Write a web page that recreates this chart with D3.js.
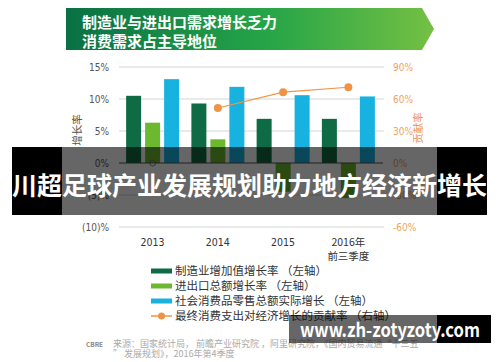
<!DOCTYPE html>
<html><head><meta charset="utf-8">
<script src="https://cdn.jsdelivr.net/npm/d3@7"></script>
<style>
html,body{margin:0;padding:0;background:#fff;}
svg{display:block;font-family:"Noto Sans CJK SC","Noto Sans",sans-serif;}
.num{font-family:"Liberation Sans Narrow","DejaVu Sans Condensed","Noto Sans",sans-serif;}
</style></head>
<body>
<script>
// ---- data ----
const categories = ["2013", "2014", "2015", "2016年前三季度"];
const categoryLines = [["2013"], ["2014"], ["2015"], ["2016年", "前三季度"]];
const manufacturing = [10.5, 9.3, 6.9, 6.9];      // 制造业增加值增长率 (left axis, %)
const trade = [6.3, 3.7, -4.5, -5.5];              // 进出口总额增长率 (left axis, %)
const retail = [13.1, 11.9, 10.6, 10.4];           // 社会消费品零售总额实际增长 (left axis, %)
const contribution = [null, 51.6, 66.4, 71.0];     // 最终消费支出对经济增长的贡献率 (right axis, %)
const leftTicks = [15, 10, 5, 0, -5, -10];
const leftTickLabels = ["15%", "10%", "5%", "0%", "(5)%", "(10)%"];
const rightTicks = [90, 60, 30, 0, -30, -60];
const rightTickLabels = ["90%", "60%", "30%", "0%", "-30%", "-60%"];
const seriesNames = ["制造业增加值增长率 （左轴）", "进出口总额增长率 （左轴）", "社会消费品零售总额实际增长  （左轴）", "最终消费支出对经济增长的贡献率 （右轴）"];
const titleLines = ["制造业与进出口需求增长乏力", "消费需求占主导地位"];
const sourceLines = ["来源：国家统计局，  前瞻产业研究院 ，阿里研究院，《国内贸易流通“十三五", "” 发展规划》，2016年第4季度"];
const overlayTitle = "川超足球产业发展规划助力地方经济新增长";
const watermark = "www.zh-zotyzoty.com";

const colors = {mfg:"#0f6b45", trade:"#6cb82f", retail:"#18b2e0", line:"#ef9446"};

const W = 500, H = 362;
const svg = d3.select("body").append("svg").attr("width", W).attr("height", H);

// ---- header banner ----
const defs = svg.append("defs");
const grad = defs.append("linearGradient").attr("id","hg").attr("x1","0").attr("x2","1").attr("y1","0").attr("y2","0");
grad.append("stop").attr("offset","0").attr("stop-color","#0a7044");
grad.append("stop").attr("offset","0.55").attr("stop-color","#26a548");
grad.append("stop").attr("offset","1").attr("stop-color","#74c043");
svg.append("path").attr("d","M66,8 L422,8 L434,29 L422,50 L66,50 Z").attr("fill","url(#hg)");
svg.selectAll("text.title").data(titleLines).join("text").attr("class","title")
  .attr("x",82).attr("y",(d,i)=>28+i*19).attr("fill","#fff")
  .attr("font-size",15).attr("font-weight","bold").text(d=>d);

// ---- scales ----
const x = d3.scaleBand().domain(categories).range([120, 381]).paddingInner(0).paddingOuter(0);
const sub = d3.scaleBand().domain(["mfg","trade","retail"]).range([-26.5, 26.5]).paddingInner(0.21).paddingOuter(0);
const yL = d3.scaleLinear().domain([-10, 15]).range([227, 67]);
const yR = d3.scaleLinear().domain([-60, 90]).range([227, 67]);

// gridlines
svg.append("g").selectAll("line").data(leftTicks.filter(t=>t!==0)).join("line")
  .attr("x1",119).attr("x2",384).attr("y1",d=>yL(d)).attr("y2",d=>yL(d))
  .attr("stroke","#d4d4d4").attr("stroke-width",1);

// left axis labels
svg.append("g").selectAll("text").data(leftTicks).join("text").attr("class","num")
  .attr("x",109).attr("y",d=>yL(d)+3.5).attr("text-anchor","end")
  .attr("font-size",10).attr("fill","#555").text((d,i)=>leftTickLabels[i]);
// right axis labels
svg.append("g").selectAll("text").data(rightTicks).join("text").attr("class","num")
  .attr("x",393).attr("y",d=>yR(d)+3.5).attr("text-anchor","start")
  .attr("font-size",10).attr("fill","#f0a35f").text((d,i)=>rightTickLabels[i]);

// axis titles
svg.append("text").attr("transform","translate(81,130) rotate(-90)").attr("text-anchor","middle")
  .attr("font-size",10.5).attr("fill","#555").text("增长率");
svg.append("text").attr("transform","translate(422,128) rotate(-90)").attr("text-anchor","middle")
  .attr("font-size",10.5).attr("fill","#ef9446").text("贡献率");

// bars
const series = [["mfg", manufacturing], ["trade", trade], ["retail", retail]];
series.forEach(([key, vals]) => {
  svg.append("g").selectAll("rect").data(vals).join("rect")
    .attr("x",(d,i)=>x(categories[i]) + x.bandwidth()/2 + sub(key))
    .attr("width",sub.bandwidth())
    .attr("y",d=>yL(Math.max(0,d)))
    .attr("height",d=>Math.abs(yL(d)-yL(0)))
    .attr("fill",colors[key]);
});

// zero line
svg.append("line").attr("x1",119).attr("x2",383).attr("y1",yL(0)).attr("y2",yL(0))
  .attr("stroke","#555").attr("stroke-width",1);

// line series (right axis)
const cx = (i)=>x(categories[i]) + x.bandwidth()/2;
const lineData = contribution.map((v,i)=>({i,v})).filter(d=>d.v!==null);
svg.append("path").datum(lineData)
  .attr("d", d3.line().x(d=>cx(d.i)).y(d=>yR(d.v)))
  .attr("fill","none").attr("stroke",colors.line).attr("stroke-width",1.2);
svg.append("g").selectAll("circle").data(lineData).join("circle")
  .attr("cx",d=>cx(d.i)).attr("cy",d=>yR(d.v)).attr("r",4).attr("fill",colors.line);
// hollow marker for missing 2013 value
contribution.forEach((v,i)=>{ if(v===null){
  svg.append("circle").attr("cx",cx(i)).attr("cy",yR(0)).attr("r",3)
    .attr("fill","none").attr("stroke","#666").attr("stroke-width",0.8);
}});

// x labels
categoryLines.forEach((lines,i)=>{
  lines.forEach((t,j)=>{
    svg.append("text").attr("class", /年|季/.test(t) ? "" : "num")
      .attr("x",cx(i)).attr("y",246+j*14).attr("text-anchor","middle")
      .attr("font-size",10.5).attr("fill","#333").text(t);
  });
});

// legend
const lg = svg.append("g");
seriesNames.forEach((name,i)=>{
  const yy = 271 + i*15;
  if(i<3){
    const key = ["mfg","trade","retail"][i];
    lg.append("rect").attr("x",151).attr("y",yy-2.5).attr("width",21).attr("height",5).attr("fill",colors[key]);
  } else {
    lg.append("line").attr("x1",151).attr("x2",172).attr("y1",yy).attr("y2",yy).attr("stroke",colors.line).attr("stroke-width",1.5);
    lg.append("circle").attr("cx",161.5).attr("cy",yy).attr("r",3.5).attr("fill",colors.line);
  }
  lg.append("text").attr("x",175).attr("y",yy+4).attr("font-size",11.5).attr("fill","#333").text(name);
});

// source
svg.append("text").attr("x",86).attr("y",347).attr("font-size",6.5).attr("fill","#888").attr("font-weight","bold").text("CBRE");
sourceLines.forEach((t,i)=>{
  svg.append("text").attr("x",113).attr("y",347+i*10).attr("font-size",9).attr("fill","#aaa").text(t);
});

// ---- overlay band with title ----
svg.append("rect").attr("x",12).attr("y",147).attr("width",50).attr("height",68).attr("fill","#000");
svg.append("rect").attr("x",437).attr("y",147).attr("width",50).attr("height",68).attr("fill","#000");
svg.append("rect").attr("x",62).attr("y",147).attr("width",375).attr("height",68).attr("fill","#000").attr("opacity",0.6);
svg.append("text").attr("x",249.5).attr("y",195).attr("text-anchor","middle")
  .attr("font-size",25).attr("font-weight","bold").attr("fill","#fff")
  .attr("textLength",475).attr("lengthAdjust","spacingAndGlyphs").text(overlayTitle);

// ---- watermark band ----
svg.append("rect").attr("x",289).attr("y",315).attr("width",148).attr("height",28).attr("fill","#000").attr("opacity",0.6);
svg.append("rect").attr("x",437).attr("y",315).attr("width",54).attr("height",28).attr("fill","#000");
svg.append("text").attr("x",300).attr("y",337)
  .attr("font-size",19).attr("font-weight","bold").attr("fill","#fff")
  .attr("textLength",180).attr("lengthAdjust","spacingAndGlyphs").text(watermark);
</script>
</body></html>
